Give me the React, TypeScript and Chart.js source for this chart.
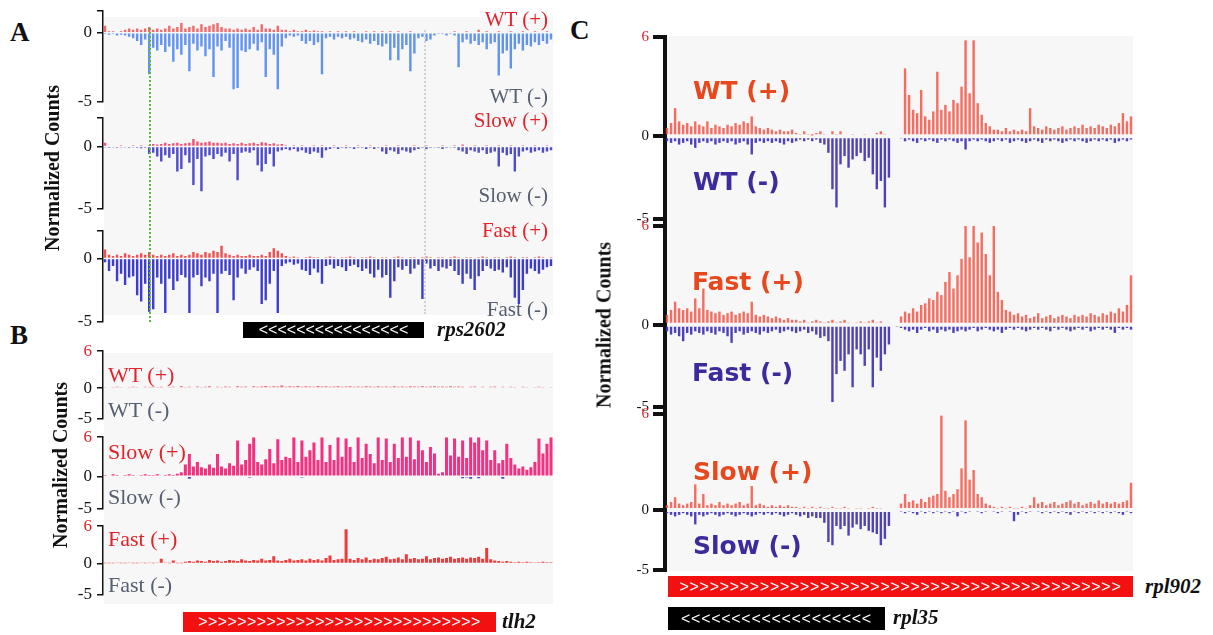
import React, { useEffect, useRef } from "react";
import { Chart, registerables } from "chart.js";

Chart.register(...registerables);

// ---------------- DATA (normalized counts per genomic bin) ----------------
// Panel A (rps2602 locus), 112 bins
const A_WT_PLUS = [0.5,0.1,0.1,0.05,0.1,0.2,0.3,0.2,0.3,0.2,0.3,0.4,0.2,0.3,0.2,0.3,0.5,0.3,0.4,0.7,
0.3,0.4,0.5,0.3,0.6,0.4,0.5,0.6,0.7,0.4,0.3,0.3,0.2,0.3,0.2,0.3,0.2,0.4,0.2,0.6,
0.3,0.3,0.2,0.5,0.2,0.2,0.1,0.2,0.1,0.1,0.2,0.1,0.15,0.1,0.1,0.05,0.1,0.05,0.1,0.05,
0.1,0.05,0.1,0.05,0.05,0.1,0.05,0.1,0.05,0.1,0.05,0.1,0.05,0.1,0.05,0.05,0.1,0.05,0.05,0.05,
0.05,0.05,0.05,0.05,0.05,0.05,0.05,0.1,0.05,0.05,0.1,0.05,0.05,0.2,0.05,0.1,0.05,0.05,0.1,0.05,
0.05,0.1,0.05,0.05,0.1,0.05,0.05,0.1,0.05,0.05,0.1,0.05];
const A_WT_MINUS = [-0.1,-0.15,-0.1,-0.2,-0.15,-0.2,-0.3,-0.4,-0.6,-0.9,-0.5,-3.0,-1.1,-1.3,-0.9,-1.4,-1.0,-2.1,-1.2,-1.6,
-0.9,-2.8,-0.8,-1.3,-1.0,-1.7,-1.2,-3.2,-1.0,-1.3,-0.6,-1.1,-4.1,-4.0,-1.3,-1.4,-1.2,-0.8,-1.3,-0.7,
-3.2,-1.2,-1.6,-4.1,-1.0,-0.4,-0.2,-0.3,-0.2,-0.6,-0.8,-0.6,-0.9,-0.7,-3.0,-0.4,-0.3,-0.5,-0.3,-0.4,
-0.3,-0.5,-0.4,-0.6,-0.7,-0.5,-0.8,-0.6,-0.9,-1.0,-0.8,-2.0,-1.1,-2.0,-1.2,-0.9,-2.8,-1.5,-0.4,-0.3,
-0.6,-0.5,-0.2,-0.1,-0.1,-0.2,-0.1,-0.2,-2.5,-0.7,-0.5,-0.8,-0.6,-0.9,-0.7,-1.2,-0.8,-0.7,-3.1,-1.5,
-1.3,-2.6,-1.2,-0.8,-1.3,-0.9,-1.0,-0.7,-0.9,-0.6,-0.8,-0.5];
const A_SLOW_PLUS = [0.3,0.05,0.05,0.05,0.1,0.05,0.05,0.1,0.05,0.1,0.05,
0.1,0.2,0.15,0.2,0.3,0.2,0.25,0.3,0.2,0.25,
0.3,0.6,0.4,0.3,0.35,0.4,0.3,0.3,0.25,0.3,
0.2,0.25,0.2,0.3,0.2,0.25,0.3,0.2,0.35,0.3,0.2,0.25,0.15,0.2,
0.1,0.05,0.1,0.05,0.1,0.05,0.05,0.1,0.05,0.1,
0.05,0.05,0.1,0.05,0.05,0.1,0.05,0.05,0.1,0.05,
0.05,0.1,0.05,0.05,0.05,0.1,0.05,0.05,0.1,0.05,
0.05,0.05,0.1,0.05,0.05,0.1,0.05,0.05,0.05,0.1,
0.05,0.05,0.1,0.05,0.15,0.05,0.05,0.1,0.05,0.05,
0.1,0.05,0.05,0.1,0.05,0.05,0.1,0.05,0.05,0.1,
0.05,0.05,0.1,0.05,0.05,0.1,0.05];
const A_SLOW_MINUS = [-0.05,-0.1,-0.05,-0.1,-0.05,-0.05,-0.1,-0.05,-0.1,-0.15,-0.1,
-0.6,-0.5,-0.8,-1.2,-0.7,-0.9,-0.6,-2.0,-1.8,-0.7,-1.3,-3.1,-1.0,-3.6,-0.8,-0.7,-1.0,-0.6,-0.8,-0.5,-1.2,-0.6,-2.7,-0.5,-0.4,-0.5,-0.3,-1.5,-2.0,-1.4,-0.6,-1.6,-0.4,-0.3,-0.2,-0.3,-0.2,-0.4,-0.3,-0.5,-0.6,-0.4,-0.5,-0.9,-0.3,-0.2,
-0.1,-0.2,-0.1,-0.15,-0.1,-0.2,-0.1,-0.1,-0.2,-0.1,
-0.2,-0.1,-0.4,-0.6,-0.3,-0.4,-0.6,-0.3,-0.4,-0.5,-0.3,-0.2,-0.1,-0.2,
-0.1,-0.05,-0.1,-0.2,-0.1,-0.05,-0.1,
-0.3,-0.4,-0.6,-0.3,-0.4,-0.5,-0.3,-0.6,-0.5,-0.4,-1.6,-0.5,-0.7,-0.6,-2.0,-0.8,-0.4,-0.3,-0.5,-0.4,-0.3,-0.5,-0.4,-0.3];
const A_FAST_PLUS = [0.7,0.3,0.2,0.3,0.2,0.4,0.3,0.2,0.3,0.4,0.3,0.5,0.3,0.2,0.3,0.2,0.3,0.4,0.2,0.3,
0.2,0.3,0.5,0.4,0.3,0.5,0.4,0.6,0.5,1.0,0.4,0.3,0.2,0.3,0.2,0.2,0.3,0.2,0.2,0.3,
0.2,0.5,0.8,0.6,0.4,0.2,
0.1,0.15,0.1,0.05,0.1,0.15,0.1,0.1,0.05,0.1,
0.15,0.1,0.05,0.1,0.1,0.15,0.1,0.05,0.1,0.1,
0.15,0.1,0.05,0.1,0.1,0.05,0.1,0.15,0.1,0.05,
0.1,0.1,0.05,0.1,0.15,0.1,0.05,0.1,0.1,0.05,
0.1,0.15,0.1,0.05,0.1,0.1,0.05,0.1,0.15,0.1,
0.05,0.1,0.1,0.05,0.1,0.15,0.1,0.05,0.1,0.1,
0.05,0.1,0.15,0.1,0.05,0.1];
const A_FAST_MINUS = [-0.3,-1.0,-0.6,-1.8,-1.2,-2.1,-1.5,-1.4,-2.9,-3.4,-2.0,-4.2,-4.0,-1.5,-2.0,-4.3,-1.6,-2.5,-1.8,-1.3,
-1.5,-4.3,-1.5,-1.3,-2.2,-1.5,-1.8,-1.2,-4.3,-1.2,-1.0,-1.3,-3.3,-1.5,-0.8,-1.2,-0.9,-0.7,-1.0,-3.6,
-3.3,-2.0,-1.0,-4.3,-0.6,-0.4,-0.3,-0.5,-0.4,-0.9,-1.0,-1.3,-0.8,-1.1,-2.0,-0.6,-0.5,-0.8,-0.6,-0.7,
-1.0,-0.6,-0.5,-0.7,-1.0,-0.8,-1.2,-1.5,-0.9,-1.5,-1.3,-3.1,-1.8,-0.7,-0.9,-0.6,-1.2,-0.8,-0.5,-3.2,
-0.4,-0.8,-0.6,-1.0,-0.7,-0.8,-0.6,-1.0,-1.3,-2.0,-1.2,-1.6,-2.5,-1.4,-1.0,-0.6,-0.8,-1.0,-0.9,-1.1,
-0.7,-1.5,-3.1,-3.6,-2.5,-1.2,-0.8,-1.0,-1.2,-0.9,-0.7,-0.6];

// Panel B (tlh2 locus), 112 bins
const B_WT_PLUS = [0.1,0.15,0.1,0.2,0.1,0.15,0.1,0.2,0.1,0.15,
0.2,0.1,0.25,0.1,0.2,0.15,0.1,0.2,0.15,0.3,
0.1,0.2,0.15,0.25,0.1,0.2,0.3,0.15,0.2,0.1,
0.25,0.2,0.15,0.3,0.2,0.25,0.15,0.3,0.2,0.25,
0.35,0.2,0.3,0.25,0.4,0.2,0.3,0.25,0.35,0.2,
0.3,0.25,0.2,0.35,0.25,0.3,0.2,0.25,0.3,0.2,
0.25,0.3,0.2,0.25,0.2,0.3,0.25,0.2,0.3,0.2,
0.25,0.2,0.3,0.2,0.25,0.2,0.3,0.25,0.2,0.3,
0.2,0.25,0.3,0.2,0.25,0.2,0.3,0.2,0.25,0.2,
0.15,0.2,0.25,0.15,0.2,0.15,0.2,0.25,0.15,0.2,
0.15,0.2,0.1,0.15,0.2,0.1,0.15,0.1,0.2,0.1,
0.15,0.1];
const B_WT_MINUS = [0,0,0,0,0,0,0,0,0,0, 0,0,0,0,0,0,0,0,0,0, 0,0,-0.1,0,0,0,0,0,0,0, 0,0,0,0,0,0,0,0,0,0,
0,0,0,0,0,0,0,0,0,0, 0,0,0,0,0,0,-0.1,0,0,0, 0,0,0,0,0,0,0,0,0,0, 0,0,0,0,0,0,0,0,0,0,
0,0,0,0,0,0,0,0,0,0, 0,0,0,0,0,0,0,0,0,0, 0,0,0,0,0,0,0,0,0,0, 0,0];
const B_SLOW_PLUS = [0.2,0.1,0.3,0.2,0.1,0.2,0.3,0.2,0.1,0.2,0.3,0.2,0.2,0.3,0.1,0.2,0.3,0.2,0.4,0.6,
1.8,3.4,1.5,2.2,1.4,1.2,1.8,1.3,3.4,1.5,
1.2,2.0,1.6,5.5,1.8,2.5,5.0,6.0,2.2,1.8,
2.6,4.2,2.0,5.7,2.5,3.0,2.8,6.0,2.2,5.5,
3.0,4.0,5.2,2.5,6.0,2.2,4.8,2.5,6.0,3.0,
5.8,4.5,2.2,6.0,2.8,5.0,3.4,2.0,6.0,2.5,
5.8,2.2,5.0,2.8,6.0,3.0,6.0,2.6,5.5,4.0,
2.2,4.5,3.5,0.4,0.6,6.0,3.2,5.8,3.0,5.5,
2.8,6.0,5.2,6.0,4.0,5.5,2.5,4.0,2.0,2.5,
5.0,2.8,1.8,1.2,1.5,1.0,1.4,2.2,5.8,3.5,5.0,6.0];
const B_SLOW_MINUS = [-0.1,0,-0.1,0,-0.1,0,0,-0.1,0,0, 0,-0.1,0,0,-0.1,0,0,0,-0.1,0, 0,-0.4,0,0,0,-0.1,0,0,0,0,
0,0,0,0,0,0,-0.2,0,0,0, 0,0,0,0,0,0,0,0,0,-0.2, 0,0,0,0,0,0,0,0,0,0, 0,0,0,0,-0.1,0,0,0,0,0,
0,0,0,0,0,0,0,0,0,0, 0,0,0,0,0,0,0,0,0,-0.3, -0.2,-0.4,0,-0.3,0,0,0,0,0,-0.4, 0,0,0,0,0,0,0,0,0,0, 0,0];
const B_FAST_PLUS = [0.05,0.05,0.05,0.1,0.05,0.05,0.1,0.05,0.05,0.1,0.05,0.1,0.05,0.1,0.8,0.1,0.05,0.5,0.05,0.05,
0.3,0.4,0.3,0.5,0.4,0.3,0.6,0.4,0.5,0.3,
0.4,0.6,0.5,0.4,0.7,0.5,0.4,0.6,0.5,0.8,
0.5,0.6,1.2,0.5,0.4,0.6,0.8,0.5,0.6,0.7,
0.5,0.8,0.6,0.7,0.5,0.9,1.3,0.6,0.7,0.8,
5.5,0.8,0.6,0.9,0.7,1.0,0.6,0.8,0.7,0.9,
1.1,0.7,0.8,1.0,0.7,1.5,0.8,0.9,0.7,0.8,
1.2,0.7,0.9,1.0,0.8,0.9,1.1,0.8,0.9,1.0,
0.8,1.0,0.9,1.1,0.8,2.5,0.7,0.5,0.4,0.3,
0.4,0.3,0.2,0.3,0.2,0.3,0.2,0.1,0.2,0.3,0.2,0.2];
const B_FAST_MINUS = [0,0,0,0,0,0,0,0,0,0, 0,0,0,0,0,0,0,0,0,0, 0,0,0,0,0,0,0,0,0,0, 0,0,0,0,0,0,0,0,0,0,
0,0,0,0,0,0,0,0,0,0, 0,0,0,0,0,0,0,0,0,0, 0,0,0,0,0,0,0,0,0,0, 0,0,0,0,0,0,0,0,0,0,
0,0,0,0,0,0,0,0,0,0, 0,0,0,0,0,0,0,0,0,0, 0,0,0,0,0,0,0,0,0,0, 0,0];

// Panel C (rpl902 / rpl35 locus), 116 bins
const C_WT_PLUS = [0.5,0.8,1.7,0.9,0.7,0.8,0.6,0.9,0.7,0.6,0.9,0.5,0.7,0.6,0.5,0.7,0.6,0.8,0.7,0.9,
0.8,1.2,0.6,0.5,0.4,0.5,0.4,0.3,0.4,0.3,0.3,0.4,
0.2,0.1,0.3,0.1,0.05,0.2,0.3,0.1,0,0.3,0.1,0.3,0,0,0.1,0,0,0.1,0,0,0.2,0.3,0.1,0,0,
0,0,4.1,2.5,1.6,1.4,2.8,1.2,1.0,1.5,3.9,1.6,1.9,1.5,2.2,2.0,3.0,5.8,2.6,5.8,2.0,1.3,0.8,0.6,0.4,
0.4,0.3,0.5,0.3,0.4,0.3,0.4,0.3,
1.7,
0.6,0.5,0.4,0.6,0.5,0.4,0.5,0.6,0.4,0.5,0.6,0.5,0.7,0.5,0.6,0.5,0.7,0.6,0.5,0.7,0.6,0.8,1.4,0.9,1.2];
const C_WT_MINUS = [-0.3,-0.4,-0.3,-0.5,-0.4,-0.3,-0.5,-0.7,-0.4,-0.3,-0.4,-0.3,-0.5,-0.4,-0.3,-0.4,-0.3,-0.5,-0.4,-0.3,
-0.5,-1.1,-0.4,-0.3,-0.4,-0.3,-0.4,-0.3,-0.4,-0.5,-0.3,-0.4,-0.3,-0.2,-0.3,-0.2,-0.3,-0.2,
-0.4,-0.5,-1.0,-3.2,-4.3,-1.7,-1.2,-1.9,-1.4,-1.2,-1.0,-1.5,-1.3,-2.3,-3.2,-2.7,-4.3,-2.5,0,0,-0.1,
-0.3,-0.2,-0.3,-0.4,-0.2,-0.3,-0.2,-0.3,-0.4,-0.2,
-0.3,-0.2,-0.3,-0.4,-0.3,-0.8,-0.3,-0.2,-0.3,-0.2,
-0.3,-0.4,-0.3,-0.2,-0.3,-0.2,-0.4,-0.3,-0.2,-0.3,
-0.4,-0.3,-0.2,-0.3,-0.4,-0.2,-0.3,-0.2,-0.3,-0.4,
-0.3,-0.2,-0.3,-0.2,-0.3,-0.4,-0.3,-0.2,-0.3,-0.2,
-0.3,-0.2,-0.4,-0.3,-0.2,-0.3,-0.2];
const C_FAST_PLUS = [0.6,0.9,1.4,1.0,0.9,1.0,0.8,1.6,1.0,2.2,0.9,0.8,0.7,0.8,0.6,0.7,0.8,0.6,0.7,0.8,
0.7,1.4,0.6,0.5,0.6,0.5,0.4,0.5,0.4,0.3,0.4,0.3,
0.3,0.2,0.3,0.1,0.2,0.3,0.2,0.1,0.2,0.3,0.1,0.2,0.3,0.1,0,0.1,0.2,0.1,0.2,0.3,0.1,0.2,0,0,0,0,
0.5,0.8,0.7,1.0,0.8,1.2,1.3,1.6,1.5,2.0,1.8,2.6,3.2,2.2,3.0,4.0,6.0,4.1,6.0,5.0,5.6,4.3,3.0,6.0,2.0,1.5,0.9,0.8,0.6,0.7,
0.5,0.6,0.4,0.5,0.7,0.4,0.5,0.6,0.4,0.5,0.6,0.5,0.4,0.6,0.5,0.6,0.5,0.7,0.6,0.5,0.7,0.6,0.8,0.7,1.0,0.8,1.2,3.0];
const C_FAST_MINUS = [-0.4,-0.6,-0.5,-0.7,-1.0,-0.5,-0.6,-0.4,-0.5,-0.6,-0.4,-0.5,-0.6,-0.4,-0.5,-0.7,-1.1,-0.5,-0.4,-0.6,
-0.5,-0.4,-0.5,-0.6,-0.4,-0.5,-0.4,-0.3,-0.5,-0.4,-0.3,-0.4,-0.5,-0.4,-0.3,-0.5,-0.4,-0.6,
-0.8,-0.7,-1.0,-4.7,-3.0,-2.2,-2.8,-1.8,-3.8,-1.5,-1.8,-2.5,-1.5,-3.8,-2.0,-2.8,-1.8,-1.2,0,-0.1,
-0.2,-0.3,-0.4,-0.3,-0.5,-0.3,-0.2,-0.4,-0.3,-0.5,
-0.3,-0.4,-0.3,-0.5,-0.4,-0.3,-0.4,-0.3,-0.2,-0.4,
-0.3,-0.2,-0.3,-0.4,-0.3,-0.5,-0.3,-0.2,-0.3,-0.2,
-0.3,-0.4,-0.3,-0.2,-0.3,-0.2,-0.3,-0.4,-0.2,-0.3,
-0.2,-0.3,-0.4,-0.3,-0.2,-0.3,-0.2,-0.4,-0.3,-0.2,
-0.3,-0.2,-0.3,-0.5,-0.2,-0.3,-0.2,-0.3];
const C_SLOW_PLUS = [0.3,0.5,0.8,0.4,0.3,0.4,0.5,1.6,0.4,1.0,0.3,0.4,0.3,0.5,0.3,0.4,0.3,0.4,0.5,0.3,
0.4,1.5,0.3,0.4,0.3,0.2,0.3,0.2,0.3,0.2,0.3,0.2,
0.2,0.1,0.2,0.1,0.2,0.1,0.2,0.1,0.1,0.2,0.1,0.1,0.2,0.1,0,0.1,0.1,0,0.1,0.2,0.1,0.1,0,0,0,0,
0.4,1.0,0.5,0.6,0.4,0.7,0.5,0.8,0.9,1.0,5.9,1.2,0.8,1.0,1.3,2.6,5.6,1.9,2.5,1.0,0.8,0.4,
0.3,0.2,0.1,0.2,0.1,0.2,0.1,0.1,0.2,0.1,
0.3,0.8,
0.4,0.5,0.3,0.4,0.5,0.3,0.4,0.5,0.6,0.4,0.5,0.3,0.4,0.5,0.4,0.6,0.4,0.5,0.4,0.5,0.4,0.5,0.6,1.7];
const C_SLOW_MINUS = [-0.2,-0.3,-0.4,-0.3,-0.2,-0.3,-0.4,-0.9,-0.3,-0.4,-0.3,-0.2,-0.3,-0.4,-0.3,-0.2,-0.3,-0.4,-0.3,-0.2,
-0.3,-0.4,-0.3,-0.2,-0.3,-0.2,-0.3,-0.2,-0.3,-0.4,-0.3,-0.2,-0.3,-0.4,-0.3,-0.5,-0.4,-0.5,
-0.5,-0.8,-2.0,-2.2,-1.0,-1.2,-1.0,-1.6,-1.1,-0.9,-1.2,-1.0,-1.3,-1.4,-1.5,-2.2,-1.8,-1.0,0,0,
-0.1,-0.2,-0.1,-0.2,-0.3,-0.1,-0.2,-0.1,-0.2,-0.1,
-0.2,-0.1,-0.2,-0.1,-0.4,-0.1,-0.2,-0.1,0,-0.1,
-0.2,-0.1,0,-0.1,-0.2,-0.1,0,-0.1,-0.7,-0.3,
-0.1,-0.2,-0.1,0,-0.1,-0.2,-0.1,-0.2,-0.1,-0.2,
-0.1,-0.2,-0.3,-0.1,-0.2,-0.1,-0.2,-0.1,-0.2,-0.1,
-0.2,-0.1,-0.2,-0.1,-0.2,-0.3,-0.1,-0.2];

// Axis ticks (values and labels)
const TICKS_A_WT = [-5, 0, 1.55];
const TICKS_A_SLOW = [-5, 0, 2.27];
const TICKS_A_FAST = [-5, 0, 2.15];
const LABELS_A = ["-5", "0", ""];
const TICKS_B = [-5, 0, 6];
const LABELS_B = ["-5", "0", "6"];
const TICKS_C = [-5, 0, 6];
const TICKS_C_SLOW = [-3.75, 0, 6];
const LABELS_C = ["-5", "0", "6"];

// ---------------- components ----------------
const PAD = 14;

type TrackProps = {
  plus: number[];
  minus: number[];
  ticks: number[];
  labels: string[];
  labelColors: string[];
  plusColor: string;
  minusColor: string;
  left: number;
  top: number;
  width: number;
  height: number;
  axisWidth: number;
  lineW: number;
  tickLen: number;
  fontSize: number;
  tickPad: number;
  barPct?: number;
};

function Track(p: TrackProps) {
  const ref = useRef<HTMLCanvasElement | null>(null);
  useEffect(() => {
    const labels = p.plus.map((_, i) => String(i));
    const ds = (data: number[], color: string) => ({
      data,
      backgroundColor: color,
      borderWidth: 0,
      barPercentage: p.barPct ?? 0.6,
      categoryPercentage: 1,
      grouped: false,
    });
    const chart = new Chart(ref.current as HTMLCanvasElement, {
      type: "bar",
      data: { labels, datasets: [ds(p.plus, p.plusColor), ds(p.minus, p.minusColor)] as any },
      options: {
        animation: false,
        responsive: false,
        maintainAspectRatio: false,
        layout: { padding: { top: PAD, bottom: PAD, left: 0, right: 0 } },
        plugins: { legend: { display: false }, tooltip: { enabled: false } },
        scales: {
          x: { display: false },
          y: {
            min: p.ticks[0],
            max: p.ticks[p.ticks.length - 1],
            afterFit: (s: any) => {
              s.width = p.axisWidth;
            },
            afterBuildTicks: (s: any) => {
              s.ticks = p.ticks.map((v) => ({ value: v }));
            },
            ticks: {
              autoSkip: false,
              padding: p.tickPad,
              callback: (_v: any, i: number) => p.labels[i],
              color: (ctx: any) => p.labelColors[ctx.index] || "#111",
              font: { family: "Liberation Serif", size: p.fontSize },
            },
            grid: {
              drawOnChartArea: false,
              drawTicks: true,
              tickLength: p.tickLen,
              lineWidth: p.lineW,
              color: "#111",
            },
            border: { display: true, color: "#111", width: p.lineW },
          },
        },
      } as any,
    });
    return () => chart.destroy();
  }, []);
  return (
    <canvas
      ref={ref}
      width={p.width}
      height={p.height + 2 * PAD}
      style={{ position: "absolute", left: p.left, top: p.top - PAD, width: p.width, height: p.height + 2 * PAD }}
    />
  );
}

type TProps = {
  x: number;
  y: number;
  text: string;
  size: number;
  color?: string;
  family?: string;
  weight?: string | number;
  italic?: boolean;
  align?: "left" | "right";
};
function T({ x, y, text, size, color = "#111", family = "Liberation Serif", weight = "normal", italic, align = "left" }: TProps) {
  const style: React.CSSProperties = {
    position: "absolute",
    top: y - size * 0.6,
    height: size * 1.2,
    lineHeight: `${size * 1.2}px`,
    fontSize: size,
    fontFamily: family,
    fontWeight: weight as any,
    fontStyle: italic ? "italic" : "normal",
    color,
    whiteSpace: "nowrap",
  };
  if (align === "right") {
    style.left = x - 300;
    style.width = 300;
    style.textAlign = "right";
  } else {
    style.left = x;
  }
  return <div style={style}>{text}</div>;
}

function VText({ x, y, text }: { x: number; y: number; text: string }) {
  return (
    <div
      style={{
        position: "absolute",
        left: x,
        top: y,
        transform: "translate(-50%, -50%) rotate(-90deg)",
        fontFamily: "Liberation Serif",
        fontWeight: "bold",
        fontSize: 20,
        whiteSpace: "nowrap",
        color: "#111",
      }}
    >
      {text}
    </div>
  );
}

function Gene({ x, y, w, h, color, arrows, spacing }: { x: number; y: number; w: number; h: number; color: string; arrows: string; spacing: number }) {
  return (
    <div
      style={{
        position: "absolute",
        left: x,
        top: y,
        width: w,
        height: h,
        background: color,
        color: "#fff",
        display: "flex",
        alignItems: "center",
        justifyContent: "center",
        fontFamily: "Liberation Sans",
        fontSize: 16,
        letterSpacing: spacing,
        overflow: "hidden",
        whiteSpace: "nowrap",
      }}
    >
      {arrows}
    </div>
  );
}

const RED = "#e3222a";
const GRAY = "#566070";
const CPLUS = "#e8481e";
const CMINUS = "#3d2b9e";

export default function App() {
  const aCommon = { left: 60, width: 493, axisWidth: 43, lineW: 1.5, tickLen: 6, fontSize: 17, tickPad: 5, labels: LABELS_A, labelColors: ["#111", "#111", "#111"] };
  const bCommon = { left: 60, width: 493, axisWidth: 43, lineW: 1.5, tickLen: 6, fontSize: 17, tickPad: 5, labels: LABELS_B, labelColors: ["#111", "#111", RED], barPct: 0.75 };
  const cCommon = { left: 590, width: 543, axisWidth: 75, lineW: 4, tickLen: 12, fontSize: 15, tickPad: 4, labels: LABELS_C, labelColors: ["#111", "#111", RED] };
  const bg = "#f7f7f7";
  return (
    <div style={{ position: "absolute", left: 0, top: 0, width: 1213, height: 635, background: "#fff", overflow: "hidden" }}>
      {/* track backgrounds */}
      <div style={{ position: "absolute", left: 104, top: 17, width: 449, height: 298, background: bg }} />
      <div style={{ position: "absolute", left: 104, top: 353, width: 449, height: 251, background: bg }} />
      <div style={{ position: "absolute", left: 667, top: 36, width: 466, height: 535, background: bg }} />

      {/* Panel A */}
      <Track {...aCommon} top={10} height={93} ticks={TICKS_A_WT} plus={A_WT_PLUS} minus={A_WT_MINUS} plusColor="rgba(240,90,90,0.9)" minusColor="rgba(80,135,240,0.9)" />
      <Track {...aCommon} top={117} height={93} ticks={TICKS_A_SLOW} plus={A_SLOW_PLUS} minus={A_SLOW_MINUS} plusColor="rgba(240,60,100,0.9)" minusColor="rgba(60,55,200,0.9)" />
      <Track {...aCommon} top={230} height={93} ticks={TICKS_A_FAST} plus={A_FAST_PLUS} minus={A_FAST_MINUS} plusColor="rgba(240,60,60,0.9)" minusColor="rgba(40,40,200,0.9)" />

      {/* Panel B */}
      <Track {...bCommon} top={350} height={70} ticks={TICKS_B} plus={B_WT_PLUS} minus={B_WT_MINUS} plusColor="rgba(235,70,90,0.8)" minusColor="rgba(60,60,200,0.8)" />
      <Track {...bCommon} top={436} height={74} ticks={TICKS_B} plus={B_SLOW_PLUS} minus={B_SLOW_MINUS} plusColor="rgba(245,25,115,0.9)" minusColor="rgba(60,60,200,0.9)" />
      <Track {...bCommon} top={525} height={71} ticks={TICKS_B} plus={B_FAST_PLUS} minus={B_FAST_MINUS} plusColor="rgba(240,35,35,0.9)" minusColor="rgba(60,60,200,0.9)" />

      {/* Panel C */}
      <div style={{ position: "absolute", left: 663, top: 37, width: 4, height: 533, background: "#111" }} />
      <Track {...cCommon} top={37} height={182} ticks={TICKS_C} plus={C_WT_PLUS} minus={C_WT_MINUS} plusColor="rgba(245,85,70,0.85)" minusColor="rgba(58,45,180,0.9)" />
      <Track {...cCommon} top={226} height={181} ticks={TICKS_C} plus={C_FAST_PLUS} minus={C_FAST_MINUS} plusColor="rgba(245,85,70,0.85)" minusColor="rgba(58,45,180,0.9)" />
      <Track {...cCommon} top={414} height={156} ticks={TICKS_C_SLOW} plus={C_SLOW_PLUS} minus={C_SLOW_MINUS} plusColor="rgba(245,85,70,0.85)" minusColor="rgba(58,45,180,0.9)" />

      {/* reference lines in A */}
      <div style={{ position: "absolute", left: 149, top: 28, height: 294, width: 0, borderLeft: "2px dotted #5cb83a" }} />
      <div style={{ position: "absolute", left: 424, top: 30, height: 284, width: 0, borderLeft: "2px dotted #d2d2d2" }} />

      {/* panel letters */}
      <T x={10} y={32} text="A" size={27} weight="bold" />
      <T x={10} y={335} text="B" size={27} weight="bold" />
      <T x={570} y={30} text="C" size={27} weight="bold" />

      {/* y titles */}
      <VText x={52} y={168} text="Normalized Counts" />
      <VText x={60} y={465} text="Normalized Counts" />
      <VText x={604} y={325} text="Normalized Counts" />

      {/* Panel A labels */}
      <T x={548} y={20} text="WT (+)" size={21} color={RED} align="right" />
      <T x={548} y={97} text="WT (-)" size={21} color={GRAY} align="right" />
      <T x={548} y={121} text="Slow (+)" size={21} color={RED} align="right" />
      <T x={548} y={196} text="Slow (-)" size={21} color={GRAY} align="right" />
      <T x={548} y={231} text="Fast (+)" size={21} color={RED} align="right" />
      <T x={548} y={310} text="Fast (-)" size={21} color={GRAY} align="right" />

      {/* Panel B labels */}
      <T x={108} y={375} text="WT (+)" size={22} color={RED} />
      <T x={108} y={410} text="WT (-)" size={22} color={GRAY} />
      <T x={108} y={452} text="Slow (+)" size={22} color={RED} />
      <T x={108} y={497} text="Slow (-)" size={22} color={GRAY} />
      <T x={108} y={539} text="Fast (+)" size={22} color={RED} />
      <T x={108} y={585} text="Fast (-)" size={22} color={GRAY} />

      {/* Panel C labels */}
      <T x={693} y={91} text="WT (+)" size={25} color={CPLUS} family="DejaVu Sans" weight="bold" />
      <T x={693} y={182} text="WT (-)" size={25} color={CMINUS} family="DejaVu Sans" weight="bold" />
      <T x={692} y={282} text="Fast (+)" size={25} color={CPLUS} family="DejaVu Sans" weight="bold" />
      <T x={692} y={373} text="Fast (-)" size={25} color={CMINUS} family="DejaVu Sans" weight="bold" />
      <T x={693} y={472} text="Slow (+)" size={25} color={CPLUS} family="DejaVu Sans" weight="bold" />
      <T x={693} y={546} text="Slow (-)" size={25} color={CMINUS} family="DejaVu Sans" weight="bold" />

      {/* gene models */}
      <Gene x={243} y={322} w={181} h={16} color="#000" arrows="<<<<<<<<<<<<<<<<" spacing={0} />
      <T x={437} y={330} text="rps2602" size={21} weight="bold" italic />
      <Gene x={183} y={612} w={313} h={20} color="#f21010" arrows=">>>>>>>>>>>>>>>>>>>>>>>>>>>>>" spacing={0.4} />
      <T x={502} y={622} text="tlh2" size={21} weight="bold" italic />
      <Gene x={668} y={576} w={465} h={21} color="#f21010" arrows=">>>>>>>>>>>>>>>>>>>>>>>>>>>>>>>>>>>>>>>>>>>>" spacing={0.7} />
      <T x={1145} y={587} text="rpl902" size={21} weight="bold" italic />
      <Gene x={668} y={607} w={217} h={23} color="#000" arrows="<<<<<<<<<<<<<<<<<<<" spacing={0.7} />
      <T x={893} y={618} text="rpl35" size={21} weight="bold" italic />
    </div>
  );
}
